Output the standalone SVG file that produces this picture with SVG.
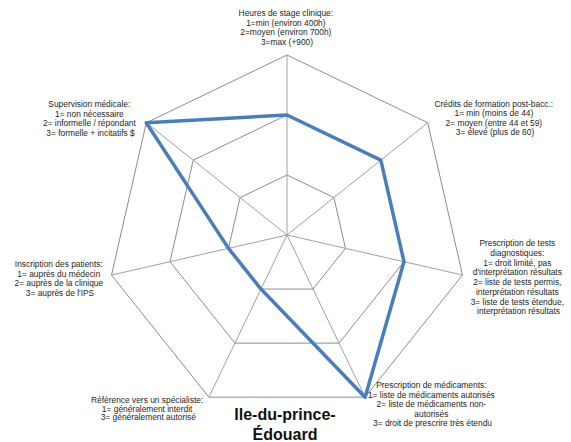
<svg xmlns="http://www.w3.org/2000/svg" width="571" height="442" viewBox="0 0 571 442">
  <style>
    .grid { fill: none; stroke: #8c8c8c; stroke-width: 1; }
    .spoke { stroke: #a0a0a0; stroke-width: 1; }
    .series { fill: none; stroke: #4a7ebb; stroke-width: 3.5; stroke-linejoin: round; stroke-linecap: round; }
    .lbl { font-family: "Liberation Sans", Arial, sans-serif; font-size: 8.4px; fill: #1e1e1e; text-anchor: middle; }
    .title { font-family: "Liberation Sans", Arial, sans-serif; font-size: 16px; font-weight: bold; fill: #111; text-anchor: middle; }
  </style>
  <rect width="571" height="442" fill="#ffffff"/>

  <!-- radar grid: rings at values 1, 2, 3 and seven spokes -->
  <g id="grid">
    <polygon class="grid" points="287,175 333.91,197.59 345.5,248.35 313.03,289.06 260.97,289.06 228.5,248.35 240.09,197.59"/>
    <polygon class="grid" points="287,115 380.82,160.18 403.99,261.7 339.07,343.12 234.93,343.12 170.01,261.7 193.18,160.18"/>
    <polygon class="grid" points="287,55 427.73,122.77 462.49,275.05 365.1,397.17 208.9,397.17 111.51,275.05 146.27,122.77"/>
    <line class="spoke" x1="287" y1="235" x2="287" y2="55"/>
    <line class="spoke" x1="287" y1="235" x2="427.73" y2="122.77"/>
    <line class="spoke" x1="287" y1="235" x2="462.49" y2="275.05"/>
    <line class="spoke" x1="287" y1="235" x2="365.1" y2="397.17"/>
    <line class="spoke" x1="287" y1="235" x2="208.9" y2="397.17"/>
    <line class="spoke" x1="287" y1="235" x2="111.51" y2="275.05"/>
    <line class="spoke" x1="287" y1="235" x2="146.27" y2="122.77"/>
  </g>

  <!-- data series -->
  <g id="connectors">
    <polygon class="series" points="287,115 380.82,160.18 403.99,261.7 365.1,397.17 260.97,289.06 228.5,248.35 146.27,122.77"/>
  </g>

  <!-- axis labels -->
  <g id="axis-stage">
    <text class="lbl" x="287" y="16">Heures de stage clinique:
      <tspan x="287" dy="9.7">1=min (environ 400h)</tspan>
      <tspan x="287" dy="9.7">2=moyen (environ 700h)</tspan>
      <tspan x="287" dy="9.7">3=max (+900)</tspan>
    </text>
  </g>
  <g id="axis-credits">
    <text class="lbl" x="495" y="106.5">Crédits de formation post-bacc.:
      <tspan x="495" dy="9.6">1= min (moins de 44)</tspan>
      <tspan x="495" dy="9.6">2= moyen (entre 44 et 59)</tspan>
      <tspan x="495" dy="9.6">3= élevé (plus de 60)</tspan>
    </text>
  </g>
  <g id="axis-tests">
    <text class="lbl" x="518.5" y="246.3">Prescription de tests
      <tspan x="518.5" dy="9.7">diagnostiques:</tspan>
      <tspan x="518.5" dy="9.7">1= droit limité, pas</tspan>
      <tspan x="518.5" dy="9.7">d'interprétation résultats</tspan>
      <tspan x="518.5" dy="9.7">2= liste de tests permis,</tspan>
      <tspan x="518.5" dy="9.7">interprétation résultats</tspan>
      <tspan x="518.5" dy="9.7">3= liste de tests étendue,</tspan>
      <tspan x="518.5" dy="9.7">interprétation résultats</tspan>
    </text>
  </g>
  <g id="axis-medicaments">
    <text class="lbl" x="432.5" y="388">Prescription de médicaments:
      <tspan x="432.5" dy="9.6">1= liste de médicaments autorisés</tspan>
      <tspan x="432.5" dy="9.6">2= liste de médicaments non-</tspan>
      <tspan x="432.5" dy="9.6">autorisés</tspan>
      <tspan x="432.5" dy="9.6">3= droit de prescrire très étendu</tspan>
    </text>
  </g>
  <g id="axis-reference">
    <text class="lbl" x="148.3" y="403">Référence vers un spécialiste:
      <tspan x="148.3" dy="8.7">1= généralement interdit</tspan>
      <tspan x="148.3" dy="8.7">3= généralement autorisé</tspan>
    </text>
  </g>
  <g id="axis-inscription">
    <text class="lbl" x="60" y="267">Inscription des patients:
      <tspan x="60" dy="9.5">1= auprès du médecin</tspan>
      <tspan x="60" dy="9.5">2= auprès de la clinique</tspan>
      <tspan x="60" dy="9.5">3= auprès de l'IPS</tspan>
    </text>
  </g>
  <g id="axis-supervision">
    <text class="lbl" x="90.5" y="107">Supervision médicale:
      <tspan x="90.5" dy="9.6">1= non nécessaire</tspan>
      <tspan x="90.5" dy="9.6">2= informelle / répondant</tspan>
      <tspan x="90.5" dy="9.6">3= formelle + incitatifs $</tspan>
    </text>
  </g>

  <!-- chart title -->
  <g id="title">
    <text class="title" x="285" y="420">Ile-du-prince-</text>
    <text class="title" x="285" y="439.5">Édouard</text>
  </g>
</svg>
